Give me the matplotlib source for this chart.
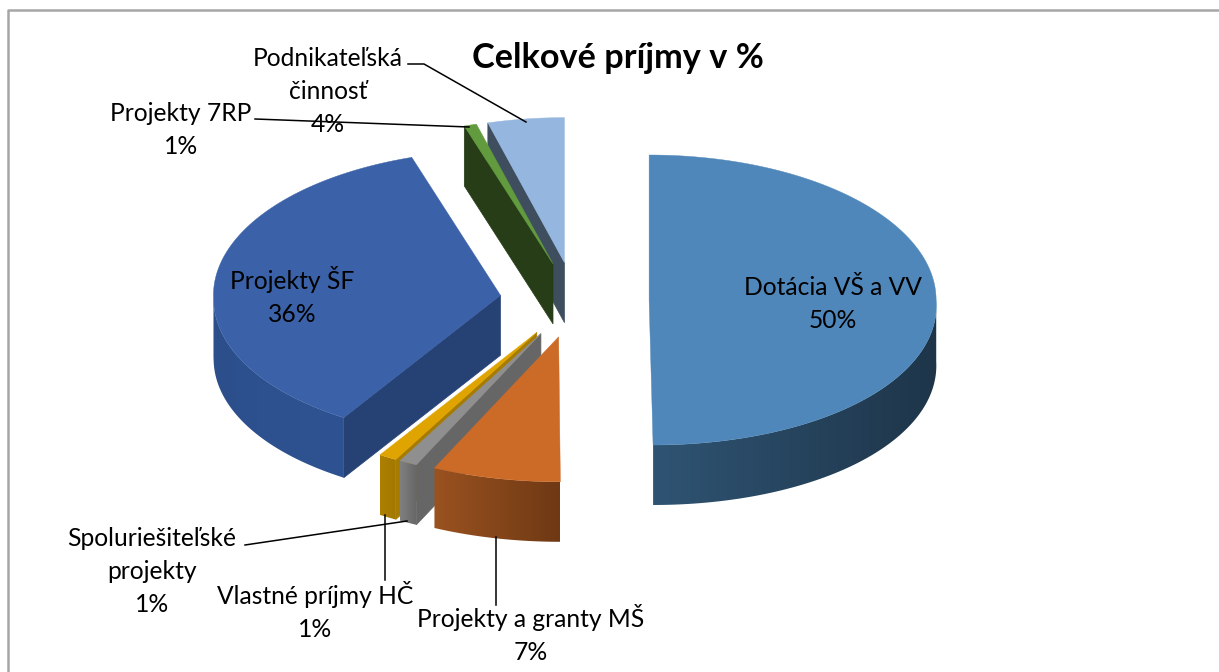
import numpy as np
import matplotlib
matplotlib.use('Agg')
import matplotlib.pyplot as plt
from matplotlib.colors import to_rgb
from matplotlib.patches import Polygon

plt.rcParams['font.family'] = ['Lato', 'DejaVu Sans']

# slice data, clockwise from 12 o'clock
names = ['Dotácia VŠ a VV', 'Projekty a granty MŠ', 'Spoluriešiteľské\nprojekty', 'Vlastné príjmy HČ',
         'Projekty ŠF', 'Projekty 7RP', 'Podnikateľská\nčinnosť']
values = [50, 7, 1, 1, 36, 0.7, 4.3]

# top face, side wall and wall gradient (left, right) for each slice
top_colors = ['#4F87BA', '#CC6B28', '#8F8F8F', '#E0A400', '#3B62A8', '#619B3D', '#95B6DE']
wall_colors = ['#2F5473', '#9A5220', '#808080', '#AD8000', '#2C4F8C', '#273D18', '#3F4E5E']
wall_colors2 = ['#1E3549', '#6F3914', '#666666', '#A37800', '#2F5392', '#273D18', '#3F4E5E']
side_colors = ['#1E3549', '#6F3914', '#666666', '#A67B00', '#264274', '#273D18', '#3F4E5E']

# label centre and line height in pixels
label_x = [833, 531, 152, 315, 292, 181, 328]
label_y = [285, 617, 536, 594, 279, 111, 56]
line_h = 33

# leader lines in pixels
leaders = [[(408, 64), (424, 64), (526, 122)],
           [(255, 119), (469, 127)],
           [(245, 545), (407, 521)],
           [(385, 515), (385, 580)],
           [(496, 537), (496, 605)]]

cx, cy = 574.5, 300
rx, ry = 287, 145
depth = 60
explode = 0.26

fig = plt.figure(figsize=(12.19, 6.72), dpi=100)
ax = fig.add_axes([0, 0, 1, 1])
ax.axis('off')

# chart frame, open at the bottom and right
ax.plot([8, 8, 1219], [672, 10, 10], color='#A6A6A6', lw=1.8, zorder=1)


def warp(x, y):
    # slight perspective on the lower half
    return x + (x - 490) * 0.025 * np.maximum(y - cy, 0) / 145, y


edges = np.cumsum([0] + values) * 3.6
# back to front
order = [6, 5, 4, 0, 3, 2, 1]
z = 2
for i in order:
    t0, t1 = np.radians(edges[i]), np.radians(edges[i + 1])
    mid = (t0 + t1) / 2
    ax0 = cx + explode * rx * np.sin(mid)
    ay0 = cy - explode * ry * np.cos(mid)
    t = np.linspace(t0, t1, 160)
    xa, ya = warp(ax0 + rx * np.sin(t), ay0 - ry * np.cos(t))
    apx, apy = warp(ax0, ay0)

    # radial wall of the start edge faces the viewer only in the left half
    if edges[i] > 180:
        ax.fill([apx, xa[0], xa[0], apx], [apy, ya[0], ya[0] + depth, apy + depth],
                color=side_colors[i], lw=0.5, zorder=z)
        z += 1

    # outer wall, lower half of the ellipse only, filled with a left-right gradient
    vis = (t >= np.pi / 2) & (t <= 3 * np.pi / 2)
    if vis.sum() > 1:
        xv, yv = xa[vis], ya[vis]
        c1, c2 = np.array(to_rgb(wall_colors[i])), np.array(to_rgb(wall_colors2[i]))
        grad = c1 + (c2 - c1) * np.linspace(0, 1, 256)[:, None]
        im = ax.imshow(grad[None, :, :], extent=[xv.min(), xv.max(), yv.max() + depth, yv.min()],
                       aspect='auto', interpolation='bilinear', zorder=z)
        wall = Polygon(np.c_[np.r_[xv, xv[::-1]], np.r_[yv, yv[::-1] + depth]],
                       closed=True, transform=ax.transData)
        im.set_clip_path(wall)
        z += 1

    ax.fill(np.r_[apx, xa], np.r_[apy, ya], color=top_colors[i], lw=0.3, zorder=z)
    z += 1

for pts in leaders:
    ax.plot([p[0] for p in pts], [p[1] for p in pts], color='black', lw=1.1, zorder=50)

for i in range(len(values)):
    lines = names[i].split('\n') + [f'{round(values[i])}%']
    for n, s in enumerate(lines):
        ax.text(label_x[i], label_y[i] + 10 + n * line_h, s, ha='center', va='baseline',
                fontsize=17.7, color='black', zorder=60)

ax.text(618, 68, 'Celkové príjmy v %', ha='center', va='baseline', fontsize=24.7,
        fontweight='bold', color='black', zorder=60)

ax.set_xlim(0, 1219)
ax.set_ylim(672, 0)
fig.savefig('out.png', dpi=100, facecolor='white')
